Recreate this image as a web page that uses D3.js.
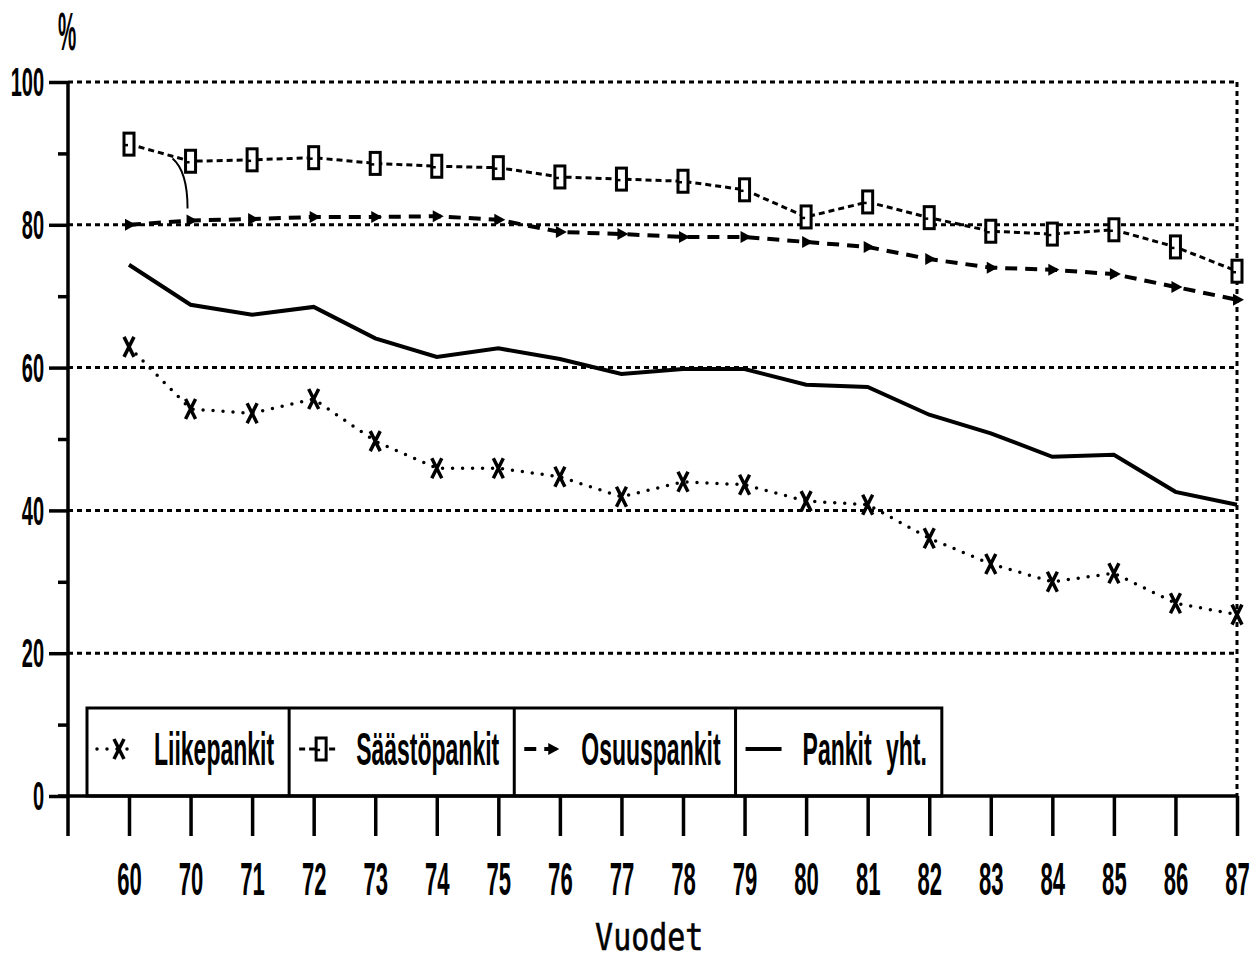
<!DOCTYPE html>
<html>
<head>
<meta charset="utf-8">
<script src="https://cdn.jsdelivr.net/npm/d3@7"></script>
<style>
  body { margin: 0; background: #fff; }
  svg { display: block; }
  .lbl { font-family: "Liberation Sans", Arial, sans-serif; font-weight: bold; fill: #000; }
</style>
</head>
<body>
<div class="chart"></div>
<script>
/* data */
const years = ["60", "70", "71", "72", "73", "74", "75", "76", "77", "78", "79", "80", "81", "82", "83", "84", "85", "86", "87"];
const liikepankit = [62.9, 54.2, 53.6, 55.6, 49.7, 45.9, 45.9, 44.7, 41.9, 44.0, 43.6, 41.3, 40.8, 36.1, 32.5, 30.0, 31.2, 27.0, 25.4];
const saastopankit = [91.3, 88.9, 89.1, 89.4, 88.6, 88.2, 88.0, 86.7, 86.4, 86.1, 84.9, 81.1, 83.2, 81.0, 79.1, 78.7, 79.3, 76.9, 73.5];
const osuuspankit = [80.0, 80.6, 80.8, 81.1, 81.1, 81.2, 80.7, 79.0, 78.7, 78.3, 78.3, 77.6, 76.9, 75.2, 74.0, 73.7, 73.1, 71.3, 69.5];
const pankitYht = [74.4, 68.8, 67.4, 68.5, 64.1, 61.5, 62.7, 61.2, 59.1, 59.8, 59.8, 57.6, 57.3, 53.4, 50.8, 47.5, 47.8, 42.6, 40.8];
const yTicks = [0, 20, 40, 60, 80, 100];
const yMinorTicks = [10, 30, 50, 70, 90];
const gridTicks = [20, 40, 60, 80, 100];
const seriesNames = ["Liikepankit", "Säästöpankit", "Osuuspankit", "Pankit yht."];

/* page size */
const width = 1250;
const height = 958;

const svg = d3.select(".chart")
  .append("svg")
  .attr("width", width)
  .attr("height", height);

/* scales */
const xScale = d3.scalePoint()
  .domain(years)
  .range([129, 1237]);

const yScale = d3.scaleLinear()
  .domain([0, 100])
  .range([796, 82]);

const x0 = 68;
const xEnd = xScale(years[years.length - 1]);

/* dotted grid lines */
svg.append("g")
  .selectAll("line")
  .data(gridTicks)
  .join("line")
  .attr("x1", x0)
  .attr("x2", xEnd)
  .attr("y1", d => yScale(d))
  .attr("y2", d => yScale(d))
  .attr("stroke", "#000")
  .attr("stroke-width", 3)
  .attr("stroke-dasharray", "5 4");

/* dotted right border */
svg.append("line")
  .attr("x1", xEnd).attr("x2", xEnd)
  .attr("y1", yScale(100)).attr("y2", yScale(0))
  .attr("stroke", "#000")
  .attr("stroke-width", 3)
  .attr("stroke-dasharray", "5 4");

/* y axis, major ticks */
const yAxis = d3.axisLeft(yScale)
  .tickValues(yTicks)
  .tickSize(19)
  .tickPadding(5);

const yG = svg.append("g")
  .attr("transform", `translate(${x0},0)`)
  .call(yAxis);
yG.select(".domain").remove();
yG.selectAll(".tick line").attr("stroke", "#000").attr("stroke-width", 3.5);
yG.selectAll(".tick text")
  .attr("class", "lbl")
  .attr("font-size", 40)
  .attr("x", -24 / 0.5)
  .attr("dy", "0.34em")
  .attr("transform", "scale(0.5,1)");

/* y axis, minor ticks */
const yMinor = d3.axisLeft(yScale)
  .tickValues(yMinorTicks)
  .tickSize(10)
  .tickFormat("");
const yMinorG = svg.append("g")
  .attr("transform", `translate(${x0},0)`)
  .call(yMinor);
yMinorG.select(".domain").remove();
yMinorG.selectAll(".tick line").attr("stroke", "#000").attr("stroke-width", 3.5);

/* x axis */
const xAxis = d3.axisBottom(xScale)
  .tickSize(40)
  .tickPadding(26);
const xG = svg.append("g")
  .attr("transform", `translate(0,${yScale(0)})`)
  .call(xAxis);
xG.select(".domain").remove();
xG.selectAll(".tick line").attr("stroke", "#000").attr("stroke-width", 3.5);
xG.selectAll(".tick text")
  .attr("class", "lbl")
  .attr("font-size", 47)
  .attr("transform", "scale(0.47,1)");

/* axis lines */
svg.append("line")
  .attr("x1", x0).attr("x2", x0)
  .attr("y1", yScale(100)).attr("y2", yScale(0) + 40)
  .attr("stroke", "#000").attr("stroke-width", 3.5);
svg.append("line")
  .attr("x1", x0 - 10).attr("x2", xEnd)
  .attr("y1", yScale(0)).attr("y2", yScale(0))
  .attr("stroke", "#000").attr("stroke-width", 3.5);

/* axis titles */
svg.append("text")
  .attr("class", "lbl")
  .attr("font-size", 54)
  .attr("text-anchor", "middle")
  .attr("transform", "translate(67,50) scale(0.38,1)")
  .text("%");

svg.append("text")
  .attr("font-family", "'DejaVu Sans Mono', monospace")
  .attr("font-size", 37)
  .attr("stroke", "#000")
  .attr("stroke-width", 0.6)
  .attr("text-anchor", "middle")
  .attr("transform", `translate(${(xScale("77") + xScale("78")) / 2 - 3},950) scale(0.81,1)`)
  .text("Vuodet");

/* line generator */
const line = d3.line()
  .x((d, i) => xScale(years[i]))
  .y(d => yScale(d));

/* line styles per series */
const styles = [
  {data: liikepankit, width: 3.5, dash: "0 10", cap: "round", marker: "x"},
  {data: saastopankit, width: 3, dash: "6 4", cap: "butt", marker: "square"},
  {data: osuuspankit, width: 4, dash: "12 8", cap: "butt", marker: "tri"},
  {data: pankitYht, width: 4, dash: null, cap: "butt", marker: null}
];

/* marker shapes */
function drawMarker(g, type) {
  if (type === "x") {
    g.append("path")
      .attr("d", "M-5,-10L5,10M5,-10L-5,10")
      .attr("stroke", "#000").attr("stroke-width", 3.5).attr("fill", "none");
  } else if (type === "square") {
    g.append("rect")
      .attr("x", -5).attr("y", -11).attr("width", 10).attr("height", 22)
      .attr("fill", "#fff").attr("stroke", "#000").attr("stroke-width", 3);
    g.append("line")
      .attr("x1", -5).attr("x2", -1).attr("y1", 1).attr("y2", 1)
      .attr("stroke", "#000").attr("stroke-width", 2.5);
  } else if (type === "tri") {
    g.append("path")
      .attr("d", "M-4,-6L7,0L-4,6Z")
      .attr("fill", "#000");
  }
}

/* draw series lines */
styles.forEach(s => {
  svg.append("path")
    .datum(s.data)
    .attr("d", line)
    .attr("fill", "none")
    .attr("stroke", "#000")
    .attr("stroke-width", s.width)
    .attr("stroke-linecap", s.cap)
    .attr("stroke-dasharray", s.dash);
});

/* small curved pointer near 1970 */
svg.append("path")
  .attr("d", `M${xScale("70") - 18},${yScale(89.3)} Q${xScale("70") - 3},${yScale(87.5)} ${xScale("70") - 3},${yScale(82.3)}`)
  .attr("fill", "none")
  .attr("stroke", "#000")
  .attr("stroke-width", 2);

/* draw markers */
styles.forEach(s => {
  if (!s.marker) return;
  svg.append("g")
    .selectAll("g")
    .data(s.data)
    .join("g")
    .attr("transform", (d, i) => `translate(${xScale(years[i])},${yScale(d)})`)
    .each(function () { drawMarker(d3.select(this), s.marker); });
});

/* legend */
const legend = svg.append("g").attr("class", "legend");
const legTop = 708;
const legBottom = yScale(0);
const legMid = 749;
let left = 87;
const cellLefts = [];

seriesNames.forEach((name, i) => {
  const s = styles[i];
  cellLefts.push(left);
  const t = legend.append("text")
    .attr("class", "lbl")
    .attr("font-size", 46)
    .attr("word-spacing", 16)
    .attr("transform", `translate(${left + 67},765) scale(0.5,1)`)
    .text(name);
  const tw = t.node().getComputedTextLength() * 0.5;

  legend.append("line")
    .attr("x1", left + 10).attr("x2", left + 46)
    .attr("y1", legMid).attr("y2", legMid)
    .attr("stroke", "#000")
    .attr("stroke-width", s.width)
    .attr("stroke-linecap", s.cap)
    .attr("stroke-dasharray", s.dash);

  if (s.marker) {
    const m = legend.append("g")
      .attr("transform", `translate(${left + (s.marker === "tri" ? 38 : 32)},${legMid})`);
    drawMarker(m, s.marker);
  }
  left = left + 67 + tw + 15;
});
cellLefts.push(left);

legend.append("rect")
  .attr("x", cellLefts[0])
  .attr("y", legTop)
  .attr("width", left - cellLefts[0])
  .attr("height", legBottom - legTop)
  .attr("fill", "none")
  .attr("stroke", "#000")
  .attr("stroke-width", 3);

legend.selectAll(".divider")
  .data(cellLefts.slice(1, -1))
  .join("line")
  .attr("class", "divider")
  .attr("x1", d => d).attr("x2", d => d)
  .attr("y1", legTop).attr("y2", legBottom)
  .attr("stroke", "#000")
  .attr("stroke-width", 3);
</script>
</body>
</html>
